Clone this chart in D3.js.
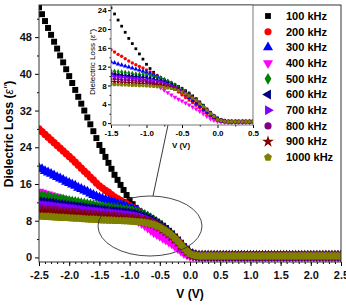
<!DOCTYPE html>
<html>
<head>
<meta charset="utf-8">
<script src="https://cdn.jsdelivr.net/npm/d3@7"></script>
<style>
  body { margin: 0; background: #fff; }
  svg { font-family: "Liberation Sans", Arial, sans-serif; }
</style>
</head>
<body>
<div id="chart"></div>
<script>
// bias voltage (V), step 0.05
const volts = [-2.5,-2.45,-2.4,-2.35,-2.3,-2.25,-2.2,-2.15,-2.1,-2.05,-2,-1.95,-1.9,-1.85,-1.8,-1.75,-1.7,-1.65,-1.6,-1.55,
  -1.5,-1.45,-1.4,-1.35,-1.3,-1.25,-1.2,-1.15,-1.1,-1.05,-1,-0.95,-0.9,-0.85,-0.8,-0.75,-0.7,-0.65,-0.6,-0.55,
  -0.5,-0.45,-0.4,-0.35,-0.3,-0.25,-0.2,-0.15,-0.1,-0.05,0,0.05,0.1,0.15,0.2,0.25,0.3,0.35,0.4,0.45,
  0.5,0.55,0.6,0.65,0.7,0.75,0.8,0.85,0.9,0.95,1,1.05,1.1,1.15,1.2,1.25,1.3,1.35,1.4,1.45,
  1.5,1.55,1.6,1.65,1.7,1.75,1.8,1.85,1.9,1.95,2,2.05,2.1,2.15,2.2,2.25,2.3,2.35,2.4,2.45,2.5];

// dielectric loss for each frequency
const loss100 = [54.5,53,51.5,50,48.5,47,45.5,44,42.5,41,39.5,38,36.5,35,33.5,32,30.5,29,27.5,26,
  24.5,23.2,21.9,20.6,19.3,18,16.9,15.8,14.7,13.6,12.5,11.6,10.8,10.1,9.6,9.2,8.9,8.55,8.2,7.8,
  7.4,6.9,6.4,5.8,5.2,4.5,3.8,3.0,2.3,1.6,1.1,0.7,0.5,0.4,0.35,0.3,0.3,0.3,0.3,0.3,
  0.3,0.3,0.3,0.3,0.3,0.3,0.3,0.3,0.3,0.3,0.3,0.3,0.3,0.3,0.3,0.3,0.3,0.3,0.3,0.3,
  0.3,0.3,0.3,0.3,0.3,0.3,0.3,0.3,0.3,0.3,0.3,0.3,0.3,0.3,0.3,0.3,0.3,0.3,0.3,0.3,0.3];
const loss200 = [28,27.4,26.8,26.2,25.6,25,24.4,23.8,23.2,22.6,22,21.4,20.75,20.1,19.45,18.8,18.2,17.5,16.9,16.2,
  15.6,15.1,14.6,14.2,13.7,13.2,12.8,12.4,12.05,11.7,11.3,10.9,10.5,10.05,9.6,9.05,8.5,7.85,7.2,6.6,
  6.0,5.45,4.9,4.35,3.8,3.2,2.6,2.05,1.5,1.0,0.6,0.45,0.35,0.3,0.3,0.3,0.3,0.3,0.3,0.3,
  0.3,0.3,0.3,0.3,0.3,0.3,0.3,0.3,0.3,0.3,0.3,0.3,0.3,0.3,0.3,0.3,0.3,0.3,0.3,0.3,
  0.3,0.3,0.3,0.3,0.3,0.3,0.3,0.3,0.3,0.3,0.3,0.3,0.3,0.3,0.3,0.3,0.3,0.3,0.3,0.3,0.3];
const loss300 = [19.5,19.2,18.8,18.5,18.2,17.85,17.5,17.2,16.9,16.5,16.2,15.9,15.6,15.2,14.9,14.6,14.3,13.9,13.6,13.3,
  13.0,12.8,12.55,12.35,12.1,11.9,11.7,11.45,11.25,11.0,10.8,10.55,10.3,9.95,9.6,9.2,8.8,8.3,7.8,7.2,
  6.6,6.0,5.4,4.8,4.2,3.55,2.9,2.3,1.7,1.2,0.7,0.5,0.35,0.3,0.3,0.3,0.3,0.3,0.3,0.3,
  0.3,0.3,0.3,0.3,0.3,0.3,0.3,0.3,0.3,0.3,0.3,0.3,0.3,0.3,0.3,0.3,0.3,0.3,0.3,0.3,
  0.3,0.3,0.3,0.3,0.3,0.3,0.3,0.3,0.3,0.3,0.3,0.3,0.3,0.3,0.3,0.3,0.3,0.3,0.3,0.3,0.3];
const loss400 = [14.3,14.1,13.9,13.7,13.5,13.3,13.1,12.9,12.7,12.5,12.3,12.1,11.95,11.75,11.6,11.4,11.2,11.05,10.85,10.7,
  10.5,10.35,10.2,10.0,9.85,9.7,9.55,9.4,9.2,9.05,8.9,8.6,8.3,7.9,7.5,7.0,6.5,6.0,5.5,5.1,
  4.7,4.3,3.9,3.45,3.0,2.5,2.0,1.45,0.95,0.6,0.35,0.25,0.2,0.15,0.15,0.15,0.15,0.15,0.15,0.15,
  0.15,0.15,0.15,0.15,0.15,0.15,0.15,0.15,0.15,0.15,0.15,0.15,0.15,0.15,0.15,0.15,0.15,0.15,0.15,0.15,
  0.15,0.15,0.15,0.15,0.15,0.15,0.15,0.15,0.15,0.15,0.15,0.15,0.15,0.15,0.15,0.15,0.15,0.15,0.15,0.15,0.15];
const loss500 = [13.5,13.4,13.25,13.15,13.0,12.9,12.8,12.65,12.55,12.4,12.3,12.2,12.05,11.95,11.8,11.7,11.6,11.45,11.35,11.2,
  11.1,11.0,10.9,10.85,10.75,10.65,10.55,10.45,10.35,10.3,10.2,10.05,9.9,9.7,9.5,9.2,8.9,8.5,8.1,7.6,
  7.1,6.55,6.0,5.45,4.9,4.25,3.6,2.85,2.1,1.5,0.9,0.6,0.4,0.3,0.3,0.3,0.3,0.3,0.3,0.3,
  0.3,0.3,0.3,0.3,0.3,0.3,0.3,0.3,0.3,0.3,0.3,0.3,0.3,0.3,0.3,0.3,0.3,0.3,0.3,0.3,
  0.3,0.3,0.3,0.3,0.3,0.3,0.3,0.3,0.3,0.3,0.3,0.3,0.3,0.3,0.3,0.3,0.3,0.3,0.3,0.3,0.3];
const loss600 = [12.2,12.1,12.0,11.95,11.85,11.75,11.65,11.55,11.5,11.4,11.3,11.2,11.1,11.05,10.95,10.85,10.75,10.65,10.6,10.5,
  10.4,10.35,10.25,10.2,10.1,10.05,10.0,9.9,9.85,9.75,9.7,9.55,9.4,9.2,9.0,8.75,8.5,8.15,7.8,7.35,
  6.9,6.4,5.9,5.35,4.8,4.15,3.5,2.75,2.0,1.4,0.85,0.6,0.4,0.3,0.3,0.3,0.3,0.3,0.3,0.3,
  0.3,0.3,0.3,0.3,0.3,0.3,0.3,0.3,0.3,0.3,0.3,0.3,0.3,0.3,0.3,0.3,0.3,0.3,0.3,0.3,
  0.3,0.3,0.3,0.3,0.3,0.3,0.3,0.3,0.3,0.3,0.3,0.3,0.3,0.3,0.3,0.3,0.3,0.3,0.3,0.3,0.3];
const loss700 = [11.5,11.4,11.35,11.25,11.2,11.1,11.0,10.95,10.85,10.8,10.7,10.6,10.55,10.45,10.4,10.3,10.2,10.15,10.05,10.0,
  9.9,9.85,9.75,9.7,9.65,9.55,9.5,9.4,9.35,9.25,9.2,9.1,9.0,8.85,8.7,8.45,8.2,7.9,7.6,7.2,
  6.8,6.3,5.8,5.25,4.7,4.05,3.4,2.7,2.0,1.4,0.8,0.55,0.4,0.3,0.3,0.3,0.3,0.3,0.3,0.3,
  0.3,0.3,0.3,0.3,0.3,0.3,0.3,0.3,0.3,0.3,0.3,0.3,0.3,0.3,0.3,0.3,0.3,0.3,0.3,0.3,
  0.3,0.3,0.3,0.3,0.3,0.3,0.3,0.3,0.3,0.3,0.3,0.3,0.3,0.3,0.3,0.3,0.3,0.3,0.3,0.3,0.3];
const loss800 = [10.8,10.75,10.65,10.6,10.5,10.45,10.4,10.3,10.25,10.15,10.1,10.05,9.95,9.9,9.8,9.75,9.7,9.6,9.55,9.45,
  9.4,9.35,9.3,9.2,9.15,9.1,9.05,9.0,8.9,8.85,8.8,8.7,8.6,8.5,8.4,8.2,8.0,7.75,7.5,7.1,
  6.7,6.25,5.8,5.25,4.7,4.05,3.4,2.7,2.0,1.4,0.8,0.55,0.4,0.3,0.3,0.3,0.3,0.3,0.3,0.3,
  0.3,0.3,0.3,0.3,0.3,0.3,0.3,0.3,0.3,0.3,0.3,0.3,0.3,0.3,0.3,0.3,0.3,0.3,0.3,0.3,
  0.3,0.3,0.3,0.3,0.3,0.3,0.3,0.3,0.3,0.3,0.3,0.3,0.3,0.3,0.3,0.3,0.3,0.3,0.3,0.3,0.3];
const loss900 = [10.0,9.95,9.9,9.8,9.75,9.7,9.65,9.6,9.5,9.45,9.4,9.35,9.3,9.2,9.15,9.1,9.05,9.0,8.9,8.85,
  8.8,8.75,8.7,8.65,8.6,8.55,8.5,8.45,8.4,8.35,8.3,8.25,8.2,8.1,8.0,7.85,7.7,7.5,7.3,6.95,
  6.6,6.15,5.7,5.2,4.7,4.05,3.4,2.7,2.0,1.4,0.8,0.55,0.4,0.3,0.3,0.3,0.3,0.3,0.3,0.3,
  0.3,0.3,0.3,0.3,0.3,0.3,0.3,0.3,0.3,0.3,0.3,0.3,0.3,0.3,0.3,0.3,0.3,0.3,0.3,0.3,
  0.3,0.3,0.3,0.3,0.3,0.3,0.3,0.3,0.3,0.3,0.3,0.3,0.3,0.3,0.3,0.3,0.3,0.3,0.3,0.3,0.3];
const loss1000 = [9.0,8.95,8.9,8.9,8.85,8.8,8.75,8.7,8.7,8.65,8.6,8.55,8.5,8.5,8.45,8.4,8.35,8.3,8.3,8.25,
  8.2,8.15,8.15,8.1,8.1,8.05,8.0,8.0,7.95,7.95,7.9,7.85,7.8,7.75,7.7,7.6,7.5,7.35,7.2,6.9,
  6.6,6.2,5.8,5.3,4.8,4.15,3.5,2.75,2.0,1.4,0.8,0.55,0.4,0.3,0.3,0.3,0.3,0.3,0.3,0.3,
  0.3,0.3,0.3,0.3,0.3,0.3,0.3,0.3,0.3,0.3,0.3,0.3,0.3,0.3,0.3,0.3,0.3,0.3,0.3,0.3,
  0.3,0.3,0.3,0.3,0.3,0.3,0.3,0.3,0.3,0.3,0.3,0.3,0.3,0.3,0.3,0.3,0.3,0.3,0.3,0.3,0.3];

const freqLabels = ["100 kHz","200 kHz","300 kHz","400 kHz","500 kHz","600 kHz","700 kHz","800 kHz","900 kHz","1000 kHz"];
const mainYTicks = [0, 8, 16, 24, 32, 40, 48];
const mainXTicks = [-2.5, -2.0, -1.5, -1.0, -0.5, 0.0, 0.5, 1.0, 1.5, 2.0, 2.5];
const insetYTicks = [0, 4, 8, 12, 16, 20, 24];
const insetXTicks = [-1.5, -1.0, -0.5, 0.0, 0.5];

const allLoss = [loss100, loss200, loss300, loss400, loss500, loss600, loss700, loss800, loss900, loss1000];

// custom pentagon for the 1000 kHz series
const symbolPentagon = {
  draw(ctx, size) {
    const r = Math.sqrt(size) * 0.62;
    for (let k = 0; k < 5; k++) {
      const a = -Math.PI / 2 + k * 2 * Math.PI / 5;
      if (k === 0) ctx.moveTo(r * Math.cos(a), r * Math.sin(a));
      else ctx.lineTo(r * Math.cos(a), r * Math.sin(a));
    }
    ctx.closePath();
  }
};

const styles = [
  {color: "#000000", type: d3.symbolSquare, rot: 0, k: 0.85},
  {color: "#ff0000", type: d3.symbolCircle, rot: 0, k: 1},
  {color: "#0000ff", type: d3.symbolTriangle, rot: 0, k: 1.1},
  {color: "#ff00ff", type: d3.symbolTriangle, rot: 180, k: 1.1},
  {color: "#008000", type: d3.symbolDiamond, rot: 0, k: 1},
  {color: "#000080", type: d3.symbolTriangle, rot: -90, k: 1.1},
  {color: "#7f00ff", type: d3.symbolTriangle, rot: 90, k: 1.1},
  {color: "#800080", type: d3.symbolCircle, rot: 0, k: 1},
  {color: "#800000", type: d3.symbolStar, rot: 0, k: 1.1},
  {color: "#808000", type: symbolPentagon, rot: 0, k: 1.1}
];

const W = 346, H = 305;
const svg = d3.select("#chart").append("svg").attr("width", W).attr("height", H);

// main plot
const m = {left: 39, right: 341, top: 5, bottom: 262};
const x = d3.scaleLinear().domain([-2.5, 2.5]).range([m.left, m.right]);
const y = d3.scaleLinear().domain([-1, 55]).range([m.bottom, m.top]);

svg.append("clipPath").attr("id", "clipMain")
  .append("rect").attr("x", m.left).attr("y", m.top)
  .attr("width", m.right - m.left).attr("height", m.bottom - m.top);

function drawSeries(g, xs, ys, size) {
  allLoss.forEach((vals, s) => {
    const st = styles[s];
    const sym = d3.symbol().type(st.type).size(size * st.k)();
    g.append("g").selectAll("path")
      .data(vals)
      .enter()
      .append("path")
      .attr("d", sym)
      .attr("fill", st.color)
      .attr("transform", (d, i) => `translate(${xs(volts[i])},${ys(d)}) rotate(${st.rot})`);
  });
}

drawSeries(svg.append("g").attr("clip-path", "url(#clipMain)"), x, y, 42);

// axes main
const xAxis = svg.append("g").attr("transform", `translate(0,${m.bottom})`)
  .call(d3.axisBottom(x).tickValues(mainXTicks).tickSize(4).tickFormat(d => d.toFixed(1)));
xAxis.select(".domain").remove();
xAxis.selectAll("text").attr("font-size", 11).attr("font-weight", "bold").attr("dy", "0.9em").attr("fill", "#111");
svg.append("g").attr("transform", `translate(0,${m.bottom})`)
  .call(d3.axisBottom(x).tickValues(d3.range(-2.4, 2.5, 0.1)).tickSize(2).tickFormat(""))
  .select(".domain").remove();

const yAxis = svg.append("g").attr("transform", `translate(${m.left},0)`)
  .call(d3.axisLeft(y).tickValues(mainYTicks).tickSize(4));
yAxis.select(".domain").remove();
yAxis.selectAll("text").attr("font-size", 11).attr("font-weight", "bold").attr("fill", "#111");
svg.append("g").attr("transform", `translate(${m.left},0)`)
  .call(d3.axisLeft(y).tickValues([4, 12, 20, 28, 36, 44, 52]).tickSize(2).tickFormat(""))
  .select(".domain").remove();

svg.append("rect").attr("x", m.left).attr("y", m.top)
  .attr("width", m.right - m.left).attr("height", m.bottom - m.top)
  .attr("fill", "none").attr("stroke", "#333").attr("stroke-width", 1);

svg.append("text").attr("x", (m.left + m.right) / 2).attr("y", 298)
  .attr("text-anchor", "middle").attr("font-size", 12).attr("font-weight", "bold").text("V (V)");

const yTitle = svg.append("text").attr("transform", "translate(13,134) rotate(-90)")
  .attr("text-anchor", "middle").attr("font-size", 12).attr("font-weight", "bold");
yTitle.append("tspan").text("Dielectric Loss (");
yTitle.append("tspan").attr("font-style", "italic").attr("font-weight", "normal").text("ε''");
yTitle.append("tspan").text(")");

// ellipse and pointer
svg.append("defs").append("marker").attr("id", "arrow")
  .attr("viewBox", "0 0 10 10").attr("refX", 9).attr("refY", 5)
  .attr("markerWidth", 6).attr("markerHeight", 6).attr("orient", "auto")
  .append("path").attr("d", "M0,1 L10,5 L0,9 z").attr("fill", "#222");
svg.append("ellipse").attr("cx", 150).attr("cy", 226).attr("rx", 52).attr("ry", 30)
  .attr("fill", "none").attr("stroke", "#333").attr("stroke-width", 0.9);
svg.append("line").attr("x1", 153).attr("y1", 196).attr("x2", 172).attr("y2", 106)
  .attr("stroke", "#222").attr("stroke-width", 0.9).attr("marker-end", "url(#arrow)");

// inset
const n = {left: 111, right: 253, top: 5, bottom: 125};
const xi = d3.scaleLinear().domain([-1.5, 0.5]).range([n.left, n.right]);
const yi = d3.scaleLinear().domain([-0.4, 25.1]).range([n.bottom, n.top]);

svg.append("rect").attr("x", n.left).attr("y", n.top)
  .attr("width", n.right - n.left).attr("height", n.bottom - n.top).attr("fill", "#fff");
svg.append("clipPath").attr("id", "clipInset")
  .append("rect").attr("x", n.left).attr("y", n.top)
  .attr("width", n.right - n.left).attr("height", n.bottom - n.top);
drawSeries(svg.append("g").attr("clip-path", "url(#clipInset)"), xi, yi, 9);

const xiAxis = svg.append("g").attr("transform", `translate(0,${n.bottom})`)
  .call(d3.axisBottom(xi).tickValues(insetXTicks).tickSize(3).tickFormat(d => d.toFixed(1)));
xiAxis.select(".domain").remove();
xiAxis.selectAll("text").attr("font-size", 8).attr("font-weight", "bold").attr("dy", "0.6em");
svg.append("g").attr("transform", `translate(0,${n.bottom})`)
  .call(d3.axisBottom(xi).tickValues([-1.25, -0.75, -0.25, 0.25]).tickSize(1.5).tickFormat(""))
  .select(".domain").remove();

const yiAxis = svg.append("g").attr("transform", `translate(${n.left},0)`)
  .call(d3.axisLeft(yi).tickValues(insetYTicks).tickSize(3));
yiAxis.select(".domain").remove();
yiAxis.selectAll("text").attr("font-size", 8).attr("font-weight", "bold").attr("dx", "0.2em");
svg.append("g").attr("transform", `translate(${n.left},0)`)
  .call(d3.axisLeft(yi).tickValues([2, 6, 10, 14, 18, 22]).tickSize(1.5).tickFormat(""))
  .select(".domain").remove();

svg.append("rect").attr("x", n.left).attr("y", n.top)
  .attr("width", n.right - n.left).attr("height", n.bottom - n.top)
  .attr("fill", "none").attr("stroke", "#555").attr("stroke-width", 0.8);

svg.append("text").attr("x", 181).attr("y", 148)
  .attr("text-anchor", "middle").attr("font-size", 8).attr("font-weight", "bold").text("V (V)");
const yiTitle = svg.append("text").attr("transform", "translate(95,62) rotate(-90)")
  .attr("text-anchor", "middle").attr("font-size", 8);
yiTitle.append("tspan").text("Dielectric Loss (");
yiTitle.append("tspan").attr("font-style", "italic").text("ε''");
yiTitle.append("tspan").text(")");

// legend
const legend = svg.append("g");
freqLabels.forEach((lab, s) => {
  const st = styles[s];
  const ly = 16 + s * 15.7;
  legend.append("path")
    .attr("d", d3.symbol().type(st.type).size(40 * st.k)())
    .attr("fill", st.color)
    .attr("transform", `translate(268,${ly}) rotate(${st.rot})`);
  legend.append("text").attr("x", 286).attr("y", ly).attr("dy", "0.35em")
    .attr("font-size", 11).attr("font-weight", "bold").text(lab);
});
</script>
</body>
</html>
